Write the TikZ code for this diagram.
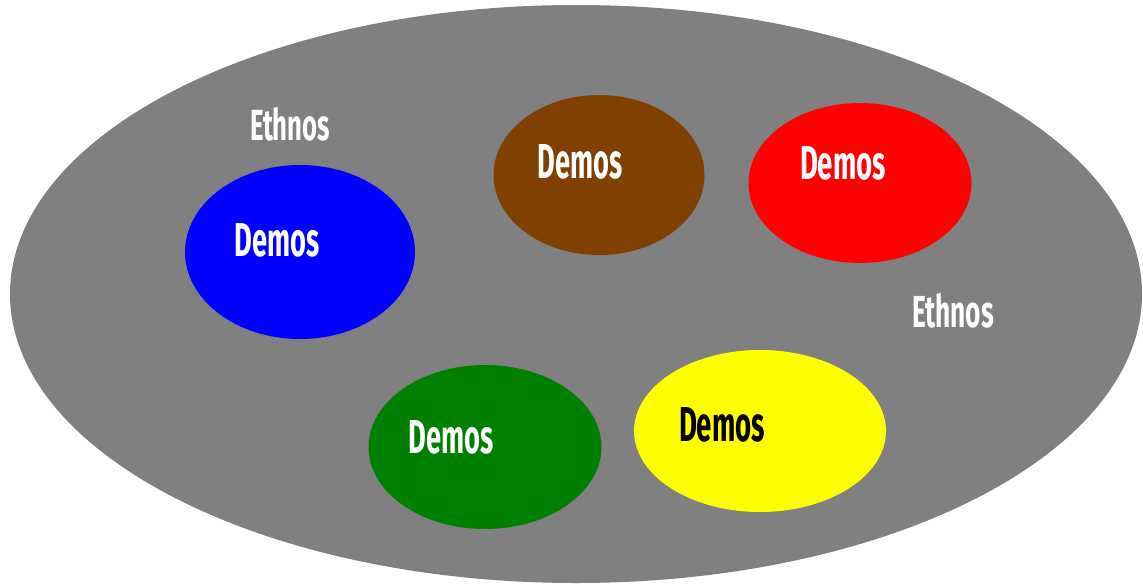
\documentclass[tikz,border=0pt]{standalone}
\usepackage{fontspec}
\setmainfont{Fira Sans}
\definecolor{ethnosgrey}{RGB}{128,128,128}
\definecolor{demosblue}{RGB}{0,0,255}
\definecolor{demosbrown}{RGB}{128,64,0}
\definecolor{demosred}{RGB}{255,0,0}
\definecolor{demosgreen}{RGB}{0,128,0}
\definecolor{demosyellow}{RGB}{255,255,0}
\tikzset{
  region/.style={ellipse, inner sep=0pt},
  label/.style={inner sep=0pt, text=white},
}
\usetikzlibrary{shapes.geometric}
% narrow, tall lettering: fixed width and cap height
\newcommand{\narrowtext}[3]{\resizebox{#1pt}{#2pt}{\bfseries #3}}
\begin{document}
\begin{tikzpicture}[x=1pt,y=-1pt]
  \useasboundingbox (0,0) rectangle (1143,586);
  % the whole ethnos
  \node[region, fill=ethnosgrey, minimum width=1132pt, minimum height=578pt] (ethnos) at (576,294) {};
  % the demoi inside it
  \node[region, fill=demosblue, minimum width=230pt, minimum height=174pt] (blue) at (300,252) {};
  \node[region, fill=demosbrown, minimum width=211pt, minimum height=160pt] (brown) at (599,175) {};
  \node[region, fill=demosred, minimum width=223pt, minimum height=160pt] (red) at (860,183) {};
  \node[region, fill=demosgreen, minimum width=233pt, minimum height=164pt] (green) at (485,447) {};
  \node[region, fill=demosyellow, minimum width=252pt, minimum height=162pt] (yellow) at (760,431) {};
  % labels
  \node[label] (e1) at (290,124) {\narrowtext{80}{33}{Ethnos}};
  \node[label] (e2) at (953,311) {\narrowtext{82}{34}{Ethnos}};
  \node[label] (d1) at (277,240) {\narrowtext{85}{33}{Demos}};
  \node[label] (d2) at (580,162) {\narrowtext{85}{34}{Demos}};
  \node[label] (d3) at (843,163) {\narrowtext{86}{33}{Demos}};
  \node[label] (d4) at (451,437) {\narrowtext{85}{33}{Demos}};
  \node[label, text=black] (d5) at (722,425) {\narrowtext{86}{34}{Demos}};
\end{tikzpicture}
\end{document}
